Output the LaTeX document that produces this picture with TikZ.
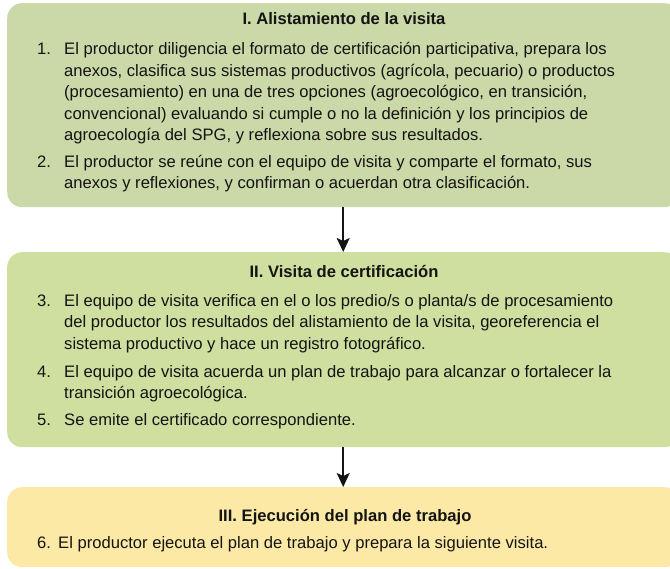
\documentclass[tikz,border=0pt]{standalone}
\usepackage{fontspec}
\setmainfont{Liberation Sans}
\usetikzlibrary{arrows.meta}
\definecolor{boxA}{HTML}{CBD8A8}
\definecolor{boxB}{HTML}{CFDFA0}
\definecolor{boxC}{HTML}{FDE9A6}
\definecolor{ink}{HTML}{141414}
\newcommand\itemlines[1]{\parbox[t]{620pt}{\fontsize{16.6}{21.5}\selectfont #1}}
\tikzset{
  panel/.style={rounded corners=15pt, draw=none, inner sep=0pt, anchor=north west, minimum width=672pt},
  heading/.style={font=\fontsize{16.6}{20}\selectfont\bfseries, text=ink, anchor=base, inner sep=0pt},
  num/.style={font=\fontsize{16.6}{20}\selectfont, text=ink, anchor=base west, inner sep=0pt},
  body/.style={text=ink, anchor=base west, inner sep=0pt},
  flow/.style={line width=1.6pt, ink, -{Stealth[length=14pt,width=13pt,inset=3pt]}}
}
\begin{document}
\begin{tikzpicture}[x=1pt,y=-1pt]
\clip (0,0) rectangle (670,569);
% panels
\node[panel, fill=boxA, minimum height=204pt] (b1) at (7,3) {};
\node[panel, fill=boxB, minimum height=195pt] (b2) at (7,252) {};
\node[panel, fill=boxC, minimum height=80pt] (b3) at (7,487) {};
% panel I
\node[heading] (h1) at (344,25) {I. Alistamiento de la visita};
\node[num] (n1) at (37,55) {1.};
\node[body] (t1) at (64,55) {\itemlines{El productor diligencia el formato de certificación participativa, prepara los\\
anexos, clasifica sus sistemas productivos (agrícola, pecuario) o productos\\
(procesamiento) en una de tres opciones (agroecológico, en transición,\\
convencional) evaluando si cumple o no la definición y los principios de\\
agroecología del SPG, y reflexiona sobre sus resultados.}};
\node[num] (n2) at (37,167.5) {2.};
\node[body] (t2) at (64,167.5) {\itemlines{El productor se reúne con el equipo de visita y comparte el formato, sus\\
anexos y reflexiones, y confirman o acuerdan otra clasificación.}};
% panel II
\node[heading] (h2) at (344,278) {II. Visita de certificación};
\node[num] (n3) at (37,306.5) {3.};
\node[body] (t3) at (64,306.5) {\itemlines{El equipo de visita verifica en el o los predio/s o planta/s de procesamiento\\
del productor los resultados del alistamiento de la visita, georeferencia el\\
sistema productivo y hace un registro fotográfico.}};
\node[num] (n4) at (37,377.5) {4.};
\node[body] (t4) at (64,377.5) {\itemlines{El equipo de visita acuerda un plan de trabajo para alcanzar o fortalecer la\\
transición agroecológica.}};
\node[num] (n5) at (37,426) {5.};
\node[body] (t5) at (64,426) {\itemlines{Se emite el certificado correspondiente.}};
% panel III
\node[heading] (h3) at (345,521) {III. Ejecución del plan de trabajo};
\node[num] (n6) at (37,548) {6.};
\node[body] (t6) at (58,548) {\itemlines{El productor ejecuta el plan de trabajo y prepara la siguiente visita.}};
% connectors
\draw[flow] (b1.south) -- (b2.north);
\draw[flow] (b2.south) -- (b3.north);
\end{tikzpicture}
\end{document}
